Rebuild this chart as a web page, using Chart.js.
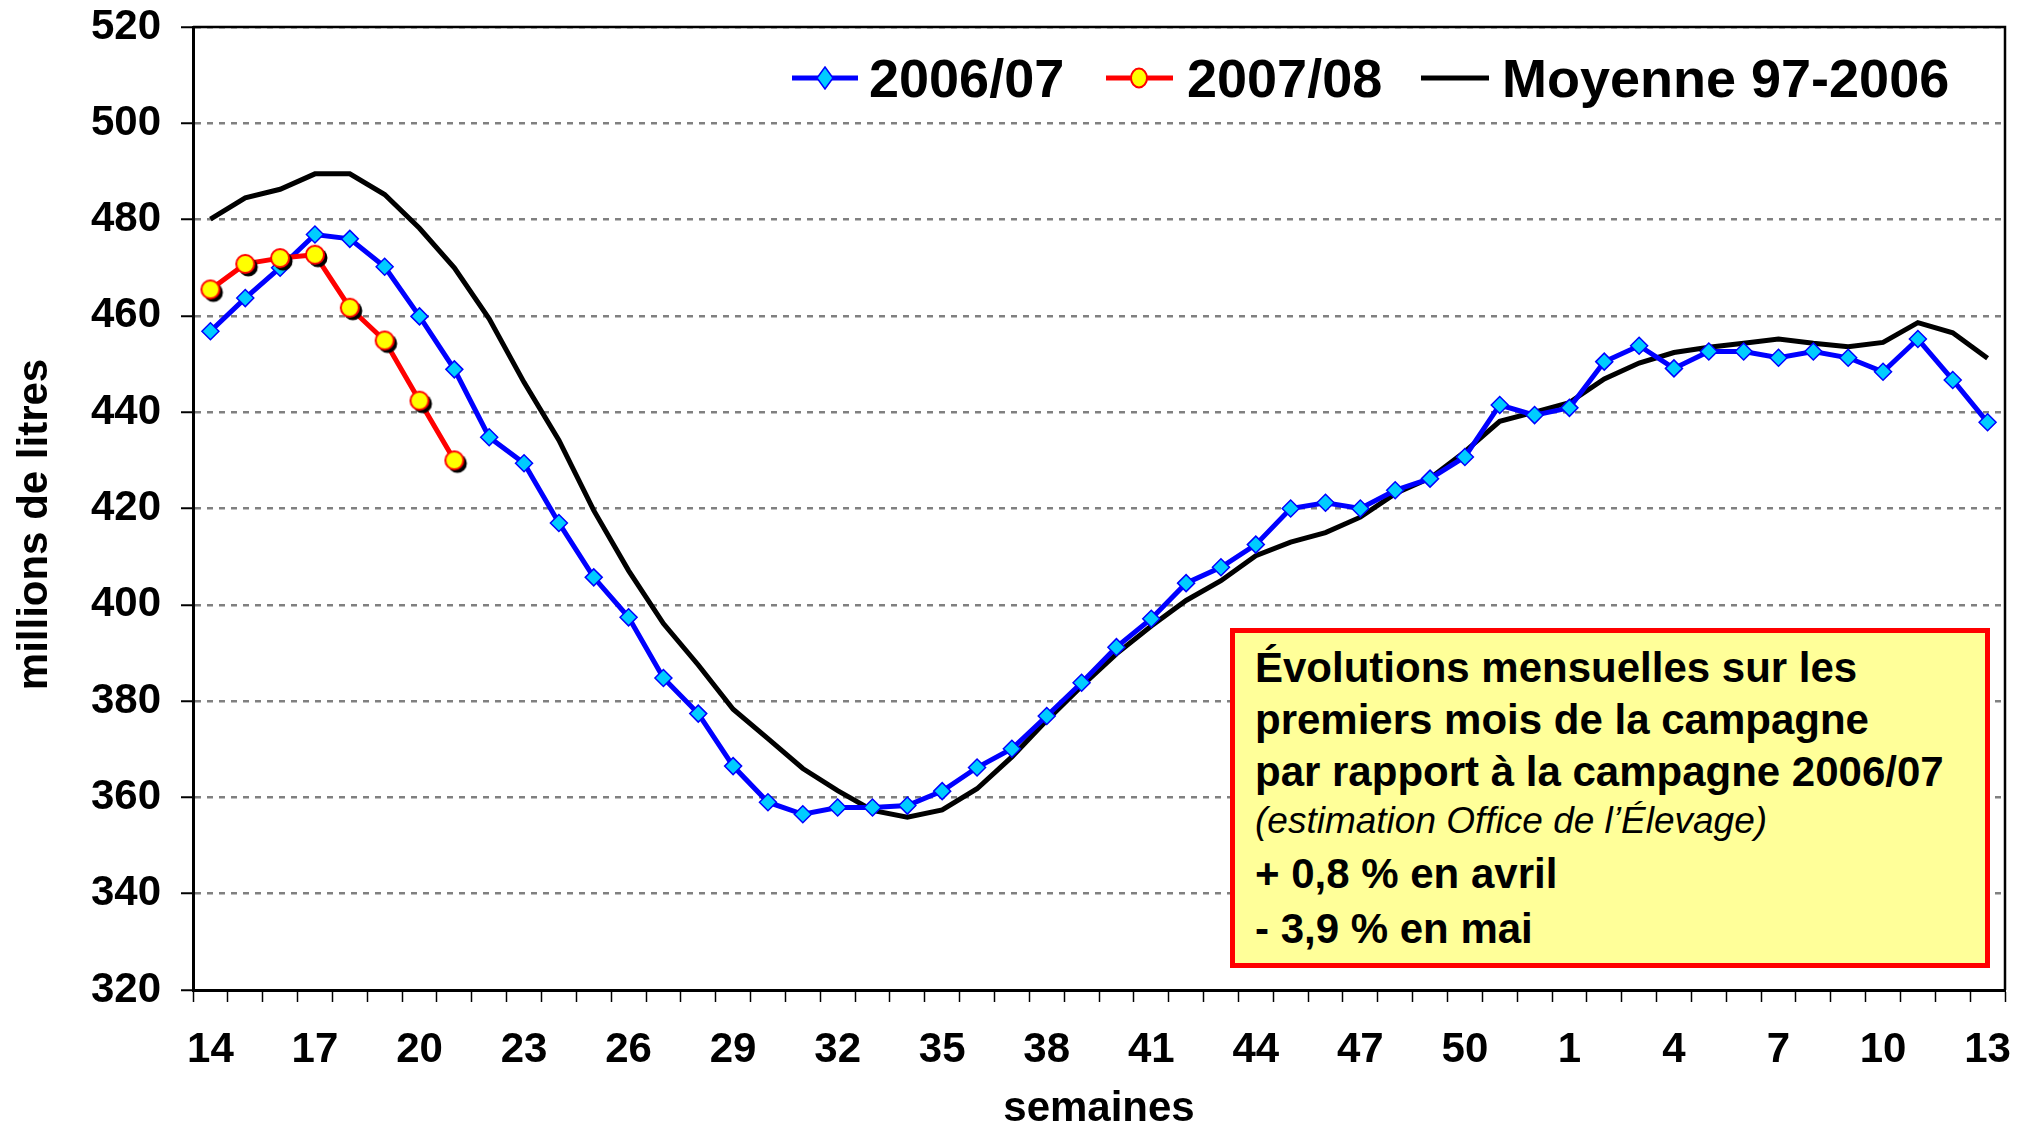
<!DOCTYPE html>
<html>
<head>
<meta charset="utf-8">
<script src="https://cdn.jsdelivr.net/npm/chart.js@4.4.1/dist/chart.umd.min.js"></script>
<style>
  body { margin: 0; background: #fff; }
  #wrap { position: relative; width: 2031px; height: 1130px; font-family: 'Liberation Sans', Arial, sans-serif; }
  .leg { position: absolute; font-size: 54px; font-weight: bold; line-height: 1; white-space: nowrap; }
  .legicon { position: absolute; }
  #note { position: absolute; left: 1230px; top: 628px; width: 750px; height: 330px;
          border: 5px solid #ff0000; background: #ffff99; }
  #note div { position: absolute; left: 20px; line-height: 1; white-space: nowrap; font-weight: bold; font-size: 42px; }
  #note div.it { font-weight: normal; font-style: italic; font-size: 37px; }
</style>
</head>
<body>
<div id="wrap">
  <canvas id="c"></canvas>

  <svg class="legicon" style="left:792px;top:66px" width="66" height="24">
    <line x1="0" y1="12" x2="66" y2="12" stroke="#0000ff" stroke-width="5"/>
    <polygon points="33,1 41,12 33,23 25,12" fill="#00ccff" stroke="#0000ff" stroke-width="1.5"/>
  </svg>
  <div class="leg" style="left:869px;top:51px">2006/07</div>

  <svg class="legicon" style="left:1106px;top:66px" width="67" height="24">
    <line x1="0" y1="12" x2="67" y2="12" stroke="#ff0000" stroke-width="5"/>
    <ellipse cx="33" cy="12" rx="8" ry="9.5" fill="#ffff00" stroke="#ff0000" stroke-width="2"/>
  </svg>
  <div class="leg" style="left:1187px;top:51px">2007/08</div>

  <svg class="legicon" style="left:1421px;top:66px" width="68" height="24">
    <line x1="0" y1="12" x2="68" y2="12" stroke="#000000" stroke-width="5"/>
  </svg>
  <div class="leg" style="left:1502px;top:51px">Moyenne 97-2006</div>

  <div id="note">
    <div style="top:14px">Évolutions mensuelles sur les</div>
    <div style="top:66px">premiers mois de la campagne</div>
    <div style="top:118px">par rapport à la campagne 2006/07</div>
    <div class="it" style="top:169px">(estimation Office de l’Élevage)</div>
    <div style="top:220px">+ 0,8 % en avril</div>
    <div style="top:275px">- 3,9 % en mai</div>
  </div>
</div>

<script>
// semaines de la campagne (avril à mars)
const weeks = ['14', '15', '16', '17', '18', '19', '20', '21', '22', '23', '24', '25', '26',
    '27', '28', '29', '30', '31', '32', '33', '34', '35', '36', '37', '38', '39',
    '40', '41', '42', '43', '44', '45', '46', '47', '48', '49', '50', '51', '52',
    '1', '2', '3', '4', '5', '6', '7', '8', '9', '10', '11', '12', '13'];

// millions de litres
const collecte2006 = [456.8, 463.7, 470.0, 476.9, 476.0, 470.2, 459.9, 448.9, 434.8, 429.4, 417.0, 405.7, 397.4,
    384.8, 377.4, 366.5, 359.0, 356.5, 357.9, 357.9, 358.3, 361.3, 366.2, 370.1, 376.9, 383.8,
    391.2, 397.1, 404.5, 407.8, 412.5, 420.0, 421.2, 420.0, 423.8, 426.2, 430.7, 441.5, 439.4,
    440.9, 450.5, 453.8, 449.1, 452.6, 452.6, 451.3, 452.6, 451.3, 448.4, 455.2, 446.7, 437.9];

const collecte2007 = [465.5, 470.8, 472.0, 472.7, 461.7, 454.9, 442.4, 430.0];

const moyenne = [480.1, 484.5, 486.3, 489.5, 489.5, 485.2, 478.2, 470.0, 459.4, 446.2, 434.2, 419.6, 407.1,
    396.1, 387.5, 378.3, 372.2, 366.0, 361.4, 357.3, 355.9, 357.4, 361.8, 368.4, 376.0, 383.1,
    389.8, 395.6, 400.9, 405.0, 410.2, 413.0, 415.0, 418.2, 423.1, 426.3, 431.8, 438.1, 440.0,
    442.0, 446.9, 450.2, 452.4, 453.5, 454.3, 455.2, 454.3, 453.6, 454.5, 458.6, 456.5, 451.2];

const yMin = 320;
const yMax = 520;
const yStep = 20;
const yTitle = 'millions de litres';

Chart.defaults.font.family = "'Liberation Sans', Arial, sans-serif";
Chart.defaults.color = '#000';

// yellow circle with a black drop shadow, used as point style
function shadowDot() {
    const cv = document.createElement('canvas');
    cv.width = 32;
    cv.height = 32;
    const g = cv.getContext('2d');
    g.fillStyle = '#000';
    g.beginPath();
    g.arc(19, 19, 9.5, 0, Math.PI * 2);
    g.fill();
    g.fillStyle = '#ffff00';
    g.strokeStyle = '#ff0000';
    g.lineWidth = 2;
    g.beginPath();
    g.arc(16, 16, 9, 0, Math.PI * 2);
    g.fill();
    g.stroke();
    return cv;
}

// black frame on top and right of the plot, plus the y title
// (the original title sits a bit below the middle of the axis)
const framePlugin = {
    id: 'frame',
    afterDraw(chart) {
        const { ctx, chartArea: a } = chart;
        ctx.save();
        ctx.strokeStyle = '#000';
        ctx.lineWidth = 2.5;
        ctx.beginPath();
        ctx.moveTo(a.left, a.top);
        ctx.lineTo(a.right, a.top);
        ctx.lineTo(a.right, a.bottom);
        ctx.stroke();

        ctx.translate(35, (a.top + a.bottom) / 2 + 16);
        ctx.rotate(-Math.PI / 2);
        ctx.font = "bold 42px 'Liberation Sans', Arial, sans-serif";
        ctx.fillStyle = '#000';
        ctx.textAlign = 'center';
        ctx.textBaseline = 'middle';
        ctx.fillText(yTitle, 0, 0);
        ctx.restore();
    }
};

const bold42 = { size: 42, weight: 'bold', lineHeight: 1 };

new Chart(document.getElementById('c'), {
    type: 'line',
    data: {
        labels: weeks,
        datasets: [
            {
                label: '2006/07',
                data: collecte2006,
                borderColor: '#0000ff',
                borderWidth: 5,
                pointStyle: 'rectRot',
                pointRadius: 8.5,
                pointBackgroundColor: '#00ccff',
                pointBorderColor: '#0000ff',
                pointBorderWidth: 1.5,
                tension: 0,
                order: 1
            },
            {
                label: '2007/08',
                data: collecte2007,
                borderColor: '#ff0000',
                borderWidth: 5,
                pointStyle: shadowDot(),
                pointRadius: 10,
                tension: 0,
                order: 0
            },
            {
                label: 'Moyenne 97-2006',
                data: moyenne,
                borderColor: '#000000',
                borderWidth: 5,
                pointRadius: 0,
                tension: 0,
                order: 2
            }
        ]
    },
    options: {
        responsive: true,
        maintainAspectRatio: false,
        animation: false,
        layout: { padding: { top: 27, right: 26, left: 0, bottom: 0 } },
        plugins: {
            legend: { display: false },
            tooltip: { enabled: false }
        },
        scales: {
            x: {
                offset: true,
                grid: {
                    offset: true,
                    drawOnChartArea: false,
                    tickLength: 12,
                    tickColor: '#000',
                    tickWidth: 1.5
                },
                border: { color: '#000', width: 3 },
                ticks: {
                    autoSkip: false,
                    maxRotation: 0,
                    padding: 27,
                    font: bold42,
                    callback: (v, i) => (i % 3 === 0 ? weeks[i] : '')
                },
                title: {
                    display: true,
                    text: 'semaines',
                    font: bold42,
                    padding: { top: 0, bottom: 0 }
                },
                afterFit(scale) {
                    scale.height = 140;
                    scale.paddingLeft = 0;
                    scale.paddingRight = 0;
                }
            },
            y: {
                min: yMin,
                max: yMax,
                grid: {
                    color: '#808080',
                    lineWidth: 2.5,
                    tickLength: 12,
                    tickColor: '#000',
                    tickWidth: 2
                },
                border: { color: '#000', width: 3, dash: [6, 6] },
                ticks: {
                    stepSize: yStep,
                    padding: 20,
                    font: bold42
                },
                afterFit(scale) {
                    scale.width = 193;
                    scale.paddingTop = 0;
                    scale.paddingBottom = 0;
                }
            }
        }
    },
    plugins: [framePlugin]
});
</script>
</body>
</html>
